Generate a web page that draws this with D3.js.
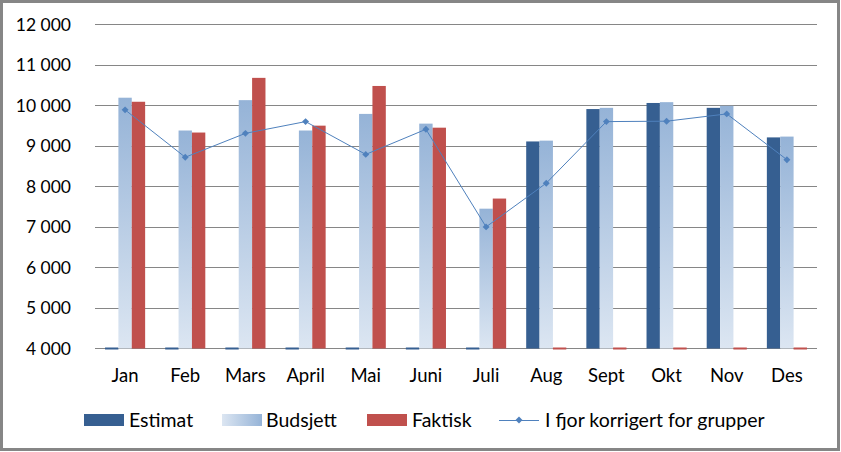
<!DOCTYPE html>
<html><head><meta charset="utf-8">
<script src="https://cdn.jsdelivr.net/npm/d3@7"></script>
<style>body{margin:0;background:#fff}svg{display:block}text{font-family:Lato,"Open Sans",sans-serif;fill:#000}</style>
</head><body><svg id="c" width="841" height="452"></svg>
<script>
const months = ["Jan","Feb","Mars","April","Mai","Juni","Juli","Aug","Sept","Okt","Nov","Des"];
const estimat  = [0,0,0,0,0,0,0,9100,9900,10050,9930,9200];
const budsjett = [10180,9370,10120,9370,9780,9540,7440,9120,9930,10070,9980,9220];
const faktisk  = [10080,9320,10670,9490,10470,9440,7690,0,0,0,0,0];
const ifjor    = [9880,8710,9300,9590,8780,9400,6990,8070,9590,9600,9780,8650];
const yTicks = [4000,5000,6000,7000,8000,9000,10000,11000,12000];
const seriesNames = ["Estimat","Budsjett","Faktisk","I fjor korrigert for grupper"];

const svg = d3.select("#c");
const W = 841, H = 452;
svg.append("rect").attr("x",1.5).attr("y",1.5).attr("width",W-4).attr("height",H-4)
  .attr("fill","#fff").attr("stroke","#868686").attr("stroke-width",3);

const defs = svg.append("defs");
const g1 = defs.append("linearGradient").attr("id","bud").attr("x1",0).attr("y1",0).attr("x2",0).attr("y2",1);
g1.append("stop").attr("offset","0%").attr("stop-color","#95b3d7");
g1.append("stop").attr("offset","100%").attr("stop-color","#dce6f2");
const g2 = defs.append("linearGradient").attr("id","budL").attr("x1",0).attr("y1",0).attr("x2",1).attr("y2",0);
g2.append("stop").attr("offset","0%").attr("stop-color","#dce6f2");
g2.append("stop").attr("offset","100%").attr("stop-color","#95b3d7");

const L = 95, R = 817, T = 24, B = 348;
const x = d3.scaleBand().domain(months).range([L,R]).paddingInner(0).paddingOuter(0);
const y = d3.scaleLinear().domain([4000,12000]).range([B,T]);
const bw = x.bandwidth()/4.5;

svg.append("g").selectAll("line").data(yTicks).join("line")
  .attr("x1",L).attr("x2",R).attr("y1",d=>Math.round(y(d))+0.5).attr("y2",d=>Math.round(y(d))+0.5)
  .attr("stroke","#868686").attr("stroke-width",1);

svg.append("g").selectAll("text").data(yTicks).join("text")
  .attr("x",71).attr("y",d=>y(d)+6.5).attr("text-anchor","end").attr("font-size",17.5)
  .text(d=>d3.format(",")(d).replace(","," "));

function barG(vals, fill, idx){
  svg.append("g").selectAll("rect").data(vals).join("rect")
    .attr("x",(d,i)=>x(months[i]) + x.bandwidth()/2 - 1.5*bw + idx*bw)
    .attr("width",bw)
    .attr("y",d=> d<=4000 ? B-0.5 : y(d))
    .attr("height",d=> d<=4000 ? 2 : B - y(d) + 0.5)
    .attr("fill",fill);
}
barG(estimat,"#365f91",0);
barG(budsjett,"url(#bud)",1);
barG(faktisk,"#c0504d",2);

const cx = (d,i)=> x(months[i]) + x.bandwidth()/2;
svg.append("path").datum(ifjor).attr("fill","none").attr("stroke","#4f81bd").attr("stroke-width",1)
  .attr("d", d3.line().x(cx).y(d=>y(d)));
svg.append("g").selectAll("path").data(ifjor).join("path")
  .attr("d", d3.symbol().type(d3.symbolSquare).size(24))
  .attr("transform",(d,i)=>`translate(${cx(d,i)},${y(d)}) rotate(45)`)
  .attr("fill","#4f81bd");

svg.append("g").selectAll("text").data(months).join("text")
  .attr("x",d=>x(d)+x.bandwidth()/2).attr("y",382).attr("text-anchor","middle").attr("font-size",18.5)
  .text(d=>d);

const ly = 420;
const leg = svg.append("g");
const items = [
  {sx:84, tx:129, type:"rect", fill:"#365f91"},
  {sx:222, tx:266, type:"rect", fill:"url(#budL)"},
  {sx:367, tx:412, type:"rect", fill:"#c0504d"},
  {sx:499, tx:545, type:"line"}
];
items.forEach((it,i)=>{
  if(it.type==="rect"){
    leg.append("rect").attr("x",it.sx).attr("y",ly-6).attr("width",40).attr("height",12).attr("fill",it.fill);
  } else {
    leg.append("line").attr("x1",it.sx).attr("x2",it.sx+40).attr("y1",ly+0.5).attr("y2",ly+0.5).attr("stroke","#4f81bd").attr("stroke-width",1);
    leg.append("path").attr("d",d3.symbol().type(d3.symbolSquare).size(24)).attr("transform",`translate(${it.sx+20},${ly}) rotate(45)`).attr("fill","#4f81bd");
  }
  leg.append("text").attr("x",it.tx).attr("y",ly+6.5).attr("font-size",19.5).text(seriesNames[i]);
});
</script></body></html>
